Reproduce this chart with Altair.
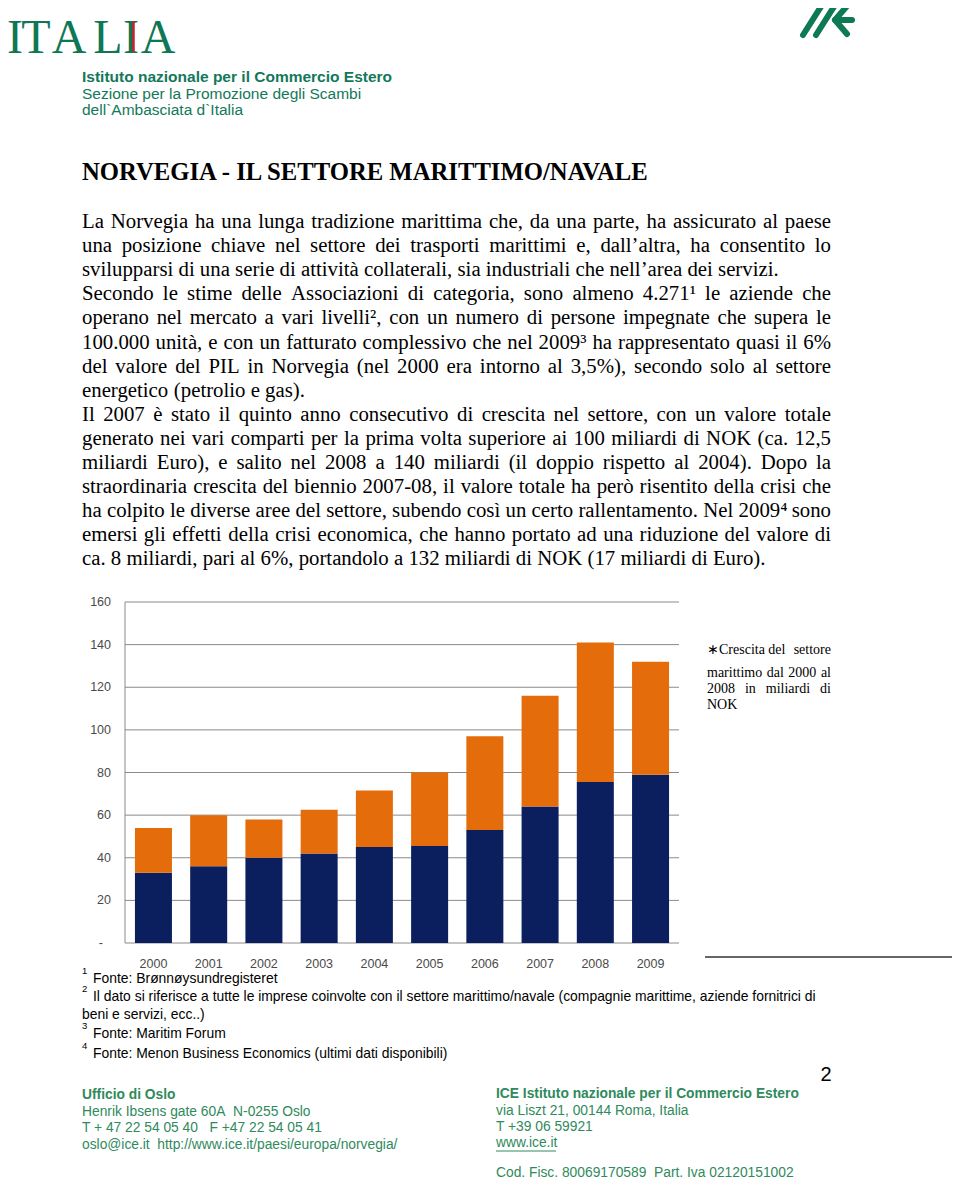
import altair as alt
import pandas as pd

# ---------------- chart data ----------------
years = ["2000", "2001", "2002", "2003", "2004", "2005", "2006", "2007", "2008", "2009"]
base_values = [33, 36, 40, 42, 45, 45.5, 53, 64, 75.5, 79]
growth_values = [21, 24, 18, 20.5, 26.5, 34.5, 44, 52, 65.5, 53]
series_names = ["Base", "Crescita"]
series_colors = ["#0b1f5e", "#e46c0a"]
y_tick_values = [0, 20, 40, 60, 80, 100, 120, 140, 160]
y_tick_labels = ["-", "20", "40", "60", "80", "100", "120", "140", "160"]

# ---------------- page text ----------------
header_lines = ["Istituto nazionale per il Commercio Estero",
                "Sezione per la Promozione degli Scambi",
                "dell`Ambasciata d`Italia"]
title_text = "NORVEGIA - IL SETTORE MARITTIMO/NAVALE"
body_lines = [
    "La Norvegia ha una lunga tradizione marittima che, da una parte, ha assicurato al paese",
    "una posizione chiave nel settore dei trasporti marittimi e, dall’altra, ha consentito lo",
    "svilupparsi di una serie di attività collaterali, sia industriali che nell’area dei servizi.",
    "Secondo le stime delle Associazioni di categoria, sono almeno 4.271¹ le aziende che",
    "operano nel mercato a vari livelli², con un numero di persone impegnate che supera le",
    "100.000 unità, e con un fatturato complessivo che nel 2009³ ha rappresentato quasi il 6%",
    "del valore del PIL in Norvegia (nel 2000 era intorno al 3,5%), secondo solo al settore",
    "energetico (petrolio e gas).",
    "Il 2007 è stato il quinto anno consecutivo di crescita nel settore, con un valore totale",
    "generato nei vari comparti per la prima volta superiore ai 100 miliardi di NOK (ca. 12,5",
    "miliardi Euro), e salito nel 2008 a 140 miliardi (il doppio rispetto al 2004). Dopo la",
    "straordinaria crescita del biennio 2007-08, il valore totale ha però risentito della crisi che",
    "ha colpito le diverse aree del settore, subendo così un certo rallentamento. Nel 2009⁴ sono",
    "emersi gli effetti della crisi economica, che hanno portato ad una riduzione del valore di",
    "ca. 8 miliardi, pari al 6%, portandolo a 132 miliardi di NOK (17 miliardi di Euro).",
]
body_justified = [True, True, False, True, True, True, True, False,
                  True, True, True, True, True, True, False]
note_lines = ["∗Crescita del settore", "marittimo dal 2000 al", "2008 in miliardi di", "NOK"]
note_justified = [True, True, True, False]
footnote_marks = ["1", "2", "3", "4"]
footnote_texts = ["Fonte: Brønnøysundregisteret",
                  "Il dato si riferisce a tutte le imprese coinvolte con il settore marittimo/navale (compagnie marittime, aziende fornitrici di",
                  "Fonte: Maritim Forum",
                  "Fonte: Menon Business Economics (ultimi dati disponibili)"]
footnote_cont = "beni e servizi, ecc..)"
NB = "\u00a0"
footer_left = ["Ufficio di Oslo", "Henrik Ibsens gate 60A" + NB + " N-0255 Oslo",
               "T + 47 22 54 05 40" + NB + NB + " F +47 22 54 05 41",
               "oslo@ice.it" + NB + " http://www.ice.it/paesi/europa/norvegia/"]
footer_right = ["ICE Istituto nazionale per il Commercio Estero", "via Liszt 21, 00144 Roma, Italia",
                "T +39 06 59921", "www.ice.it"]
footer_fisc = "Cod. Fisc. 80069170589" + NB + " Part. Iva 02120151002"
page_number = "2"

# ---------------- layout / style ----------------
OX, OY = 8, 8
W, H = 944, 1171
SERIF = "'Liberation Serif', 'Times New Roman', serif"
SANS = "'Liberation Sans', Arial, sans-serif"
NARROW = "'Liberation Sans Narrow', 'Arial Narrow', 'Liberation Sans', sans-serif"
GREEN = "#13785a"
GREEN_FOOT = "#2f8a5c"

# Times-compatible advance widths (1/1000 em) for justification
TW = {" ": 250, "!": 333, "%": 833, "(": 333, ")": 333, ",": 250, "-": 333, ".": 250,
      "/": 278, ":": 278, ";": 278, "’": 333, "'": 180, "¹": 300, "²": 300, "³": 300,
      "⁴": 300, "∗": 500, "à": 444, "è": 444, "é": 444, "ì": 278, "ò": 500, "ù": 500}
for d in "0123456789":
    TW[d] = 500
TW.update(dict(zip("ABCDEFGHIJKLMNOPQRSTUVWXYZ",
                   [722, 667, 667, 722, 611, 556, 722, 722, 333, 389, 722, 611, 889,
                    722, 722, 556, 722, 667, 556, 611, 722, 722, 944, 722, 722, 611])))
TW.update(dict(zip("abcdefghijklmnopqrstuvwxyz",
                   [444, 500, 444, 500, 444, 333, 500, 500, 278, 278, 500, 278, 778,
                    500, 500, 500, 500, 333, 389, 278, 500, 500, 722, 500, 500, 444])))


def tw(s):
    return sum(TW.get(c, 500) for c in s) / 1000.0


def row(x, y, s):
    return {"x": x - OX, "y": y - OY, "t": s}


def justify(line, x0, x1, yc, fs, just):
    words = line.split(" ")
    widths = [tw(w) * fs for w in words]
    if just and len(words) > 1:
        gap = (x1 - x0 - sum(widths)) / (len(words) - 1)
    else:
        gap = tw(" ") * fs
    out, cx = [], x0
    for w, wd in zip(words, widths):
        out.append(row(cx, yc, w))
        cx += wd + gap
    return out


def text_layer(rows, **kw):
    kw.setdefault("align", "left")
    kw.setdefault("baseline", "middle")
    return alt.Chart(pd.DataFrame(rows)).mark_text(**kw).encode(
        x=alt.X("x:Q", scale=None, axis=None),
        y=alt.Y("y:Q", scale=None, axis=None),
        text="t:N")


def rule_layer(segs, **kw):
    df = pd.DataFrame([{"x": a - OX, "y": b - OY, "x2": c - OX, "y2": d - OY} for a, b, c, d in segs])
    return alt.Chart(df).mark_rule(**kw).encode(
        x=alt.X("x:Q", scale=None, axis=None), y=alt.Y("y:Q", scale=None, axis=None),
        x2="x2:Q", y2="y2:Q")


layers = []

# ---- logos ----
logo_letters = [("I", 15), ("T", 36), ("A", 69), ("L", 108), ("I", 131), ("A", 158)]
layers.append(text_layer([row(x, 53, s) for s, x in logo_letters], align="center",
                         baseline="alphabetic", font=SERIF, fontSize=48, color="#0e7856"))
layers.append(rule_layer([(133.5, 21, 133.5, 52)], color="#c8202f", strokeWidth=2.5))
layers.append(rule_layer([(803, 35, 822, 5), (816, 35, 835, 5), (847, 6, 835, 20),
                          (835, 20, 847, 34), (837, 20, 852, 20)],
                         color="#0e7a55", strokeWidth=6, strokeCap="round"))

# ---- header ----
layers.append(text_layer([row(82, 77, header_lines[0])], font=SANS, fontSize=15.5,
                         fontWeight="bold", color=GREEN))
layers.append(text_layer([row(82, 94, header_lines[1]), row(82, 110, header_lines[2])],
                         font=SANS, fontSize=15.5, color=GREEN))

# ---- title & body ----
layers.append(text_layer([row(82, 173, title_text)], font=SERIF, fontSize=24.7,
                         fontWeight="bold", color="#000000"))
body_rows = []
for i, (ln, j) in enumerate(zip(body_lines, body_justified)):
    body_rows += justify(ln, 82, 831, 222 + i * 24.1, 20.8, j)
layers.append(text_layer(body_rows, font=SERIF, fontSize=20.8, color="#000000"))

# ---- chart ----
bar_df = pd.DataFrame(
    [{"year": y, "series": series_names[0], "value": b, "ord": 0} for y, b in zip(years, base_values)]
    + [{"year": y, "series": series_names[1], "value": g, "ord": 1} for y, g in zip(years, growth_values)])
tick_df = pd.DataFrame({"v": y_tick_values, "label": y_tick_labels})
tick_df["lx"] = [(103 if lab == "-" else 111) - OX for lab in y_tick_labels]
year_df = pd.DataFrame({"year": years})


def xsc():
    return alt.Scale(type="band", domain=years, range=[125 - OX, 679 - OX],
                     paddingInner=0.33, paddingOuter=0.18)


def ysc():
    return alt.Scale(domain=[0, 160], range=[943 - OY, 602 - OY], nice=False, zero=True)


layers.append(alt.Chart(tick_df).mark_rule(color="#8a8a8a", strokeWidth=1).encode(
    y=alt.Y("v:Q", scale=ysc(), axis=None),
    x=alt.value(125 - OX), x2=alt.value(679 - OX)))
layers.append(alt.Chart(pd.DataFrame({"a": [0], "b": [160]})).mark_rule(
    color="#8a8a8a", strokeWidth=1).encode(
    x=alt.value(125 - OX), y=alt.Y("a:Q", scale=ysc(), axis=None), y2="b:Q"))
layers.append(alt.Chart(bar_df).mark_bar().encode(
    x=alt.X("year:O", scale=xsc(), axis=None),
    y=alt.Y("value:Q", stack="zero", scale=ysc(), axis=None),
    color=alt.Color("series:N", scale=alt.Scale(domain=series_names, range=series_colors), legend=None),
    order=alt.Order("ord:Q")))
layers.append(alt.Chart(tick_df).mark_text(align="right", baseline="middle", font=NARROW,
                                           fontSize=12.5, color="#4a4a4a").encode(
    y=alt.Y("v:Q", scale=ysc(), axis=None), x=alt.X("lx:Q", scale=None, axis=None),
    text="label:N"))
layers.append(alt.Chart(year_df).mark_text(align="center", baseline="middle", font=NARROW,
                                           fontSize=12.5, color="#4a4a4a").encode(
    x=alt.X("year:O", scale=xsc(), axis=None), y=alt.value(964 - OY), text="year:N"))

# ---- side note ----
note_rows = []
for ln, j, yy in zip(note_lines, note_justified, [650, 673, 689, 705]):
    note_rows += justify(ln, 707, 831, yy, 14, j)
layers.append(text_layer(note_rows, font=SERIF, fontSize=14, color="#000000"))

# ---- footnotes ----
layers.append(rule_layer([(705, 957, 957, 957)], color="#333333", strokeWidth=1.5))
fn_y = [979, 997, 1034, 1054]
layers.append(text_layer([row(82, y - 8, m) for m, y in zip(footnote_marks, fn_y)],
                         font=NARROW, fontSize=9.5, color="#000000"))
layers.append(text_layer([row(93, y, t) for t, y in zip(footnote_texts, fn_y)]
                         + [row(82, 1015, footnote_cont)],
                         font=NARROW, fontSize=13.9, color="#000000"))
layers.append(text_layer([row(826, 1075, page_number)], align="center", font=SANS,
                         fontSize=20, color="#000000"))

# ---- footer ----
layers.append(text_layer([row(82, 1095, footer_left[0]), row(496, 1094, footer_right[0])],
                         font=NARROW, fontSize=13.8, fontWeight="bold", color=GREEN_FOOT))
layers.append(text_layer([row(82, y, t) for t, y in zip(footer_left[1:], [1112, 1128, 1145])]
                         + [row(496, y, t) for t, y in zip(footer_right[1:], [1111, 1127, 1143])]
                         + [row(496, 1173, footer_fisc)],
                         font=NARROW, fontSize=13.8, color=GREEN_FOOT))
layers.append(rule_layer([(496, 1151, 556, 1151)], color=GREEN_FOOT, strokeWidth=1))

chart = alt.layer(*layers).resolve_scale(x="independent", y="independent").properties(
    width=W, height=H, autosize=alt.AutoSizeParams(type="none"), padding=0,
    background="#ffffff").configure_view(stroke=None)

chart.save("out.html", embed_options={"renderer": "svg", "actions": False})
